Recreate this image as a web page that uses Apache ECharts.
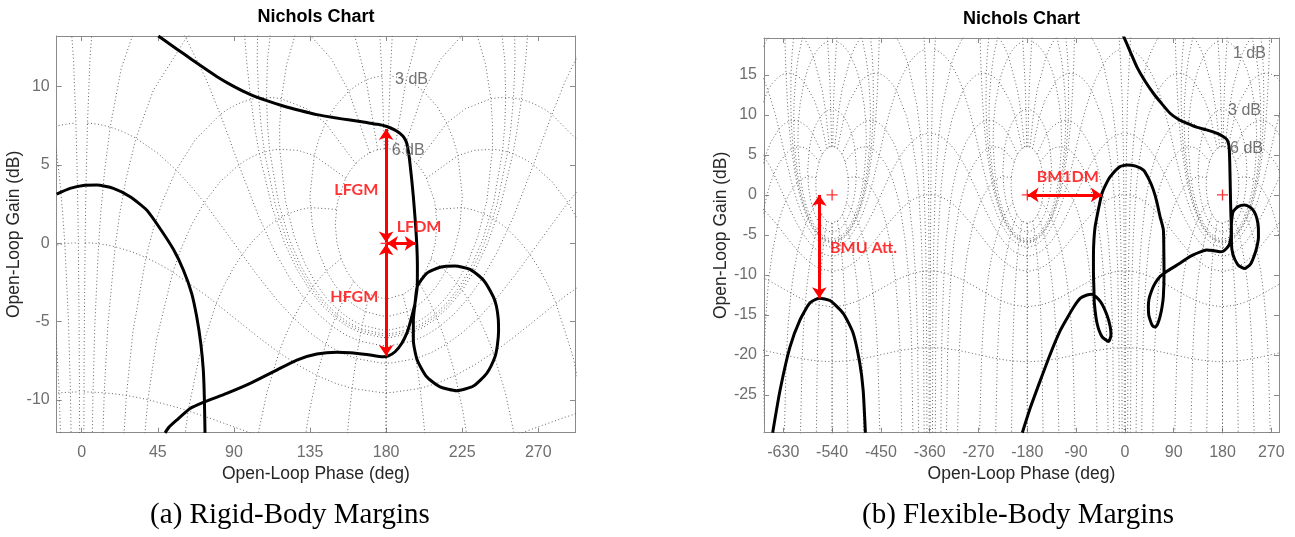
<!DOCTYPE html>
<html><head><meta charset="utf-8">
<script src="https://cdn.jsdelivr.net/npm/echarts@6/dist/echarts.min.js"></script>
<style>html,body{margin:0;padding:0;background:#fff}#c{width:1295px;height:537px}</style>
</head><body><div id="c"></div>
<script>
// ---------------- data ----------------
const leftXTicks = [0, 45, 90, 135, 180, 225, 270];
const leftYTicks = [-10, -5, 0, 5, 10];
const rightXTicks = [-630, -540, -450, -360, -270, -180, -90, 0, 90, 180, 270];
const rightYTicks = [-25, -20, -15, -10, -5, 0, 5, 10, 15];

// open-loop response, rigid-body (phase deg, gain dB)
const leftMain = [
  [45.3,13.24],[52.2,12.71],[60.1,12.12],[70,11.37],[79.8,10.66],[89.6,10.04],[99.5,9.51],[109.4,9.11],
  [119.2,8.77],[129.1,8.48],[139,8.22],[148.8,8.03],[158.7,7.87],[168.5,7.71],[175,7.6],[180.4,7.46],
  [185,7.25],[188.2,7.02],[190.6,6.75],[192.2,6.39],[193.4,5.7],[194.1,5.11],[195.2,4.0],[196.1,2.98],
  [197.2,1.5],[198.1,0],[198.5,-1.5],[198.4,-2.77],[197.1,-3.83],[196.1,-4.9],[196.1,-6.18],
  [198.4,-7.45],[204,-8.52],[211.9,-9.16],[221.7,-9.41],[231.6,-9.11],[239.5,-8.3],[244.4,-7.24],
  [245.8,-6.5],[246.5,-5.6],[246.3,-4.8],[245.2,-4.0],[243.4,-3.41],[237.5,-2.34],[229.6,-1.66],
  [220.7,-1.45],[211.9,-1.53],[204,-1.92],[198.4,-2.77],[197.1,-3.83],
  [196.1,-4.3],[194.1,-5.11],[192.2,-5.75],[189.2,-6.39],[185.3,-6.92],[181.4,-7.18],[178.3,-7.24],
  [168.5,-7.09],[158.7,-6.98],[150.8,-6.95],[139,-7.07],[127.2,-7.45],[115.3,-8.09],[99.6,-8.94],
  [85.7,-9.58],[72.9,-10.11],[64.1,-10.54],[56.2,-11.28],[51.5,-11.75],[49.3,-12.1]
];
const leftArch = [
  [-14.8,3.15],[-6.9,3.51],[0.9,3.7],[8.9,3.72],[18.7,3.51],[28.6,2.98],[38.4,2.13],[46.3,0.95],
  [54.2,-0.38],[60.1,-1.7],[65,-3.19],[68,-4.69],[70.4,-6.39],[71.9,-8.09],[72.5,-9.8],[72.9,-12.1]
];
// open-loop response, flexible-body
const rightMain = [
  [-3,19.9],[9.7,17.9],[22,16.0],[37.3,14.2],[52.5,12.7],[67.9,11.4],[83.2,10.2],[98.4,9.46],
  [113.9,8.96],[132.2,8.46],[150.6,8.13],[169,7.71],[181.1,7.29],[188.4,6.88],[192.1,6.04],[193.4,3.96],
  [194.7,-0.2],[195.5,-2.5],[196.5,-4.4],[196.5,-6.0],
  [199.5,-7.5],[208.6,-8.75],[220.9,-9.2],[232,-8.6],[238.5,-7.6],[243.5,-6.46],[246.3,-5.3],
  [246.2,-4.2],[243.6,-3.0],[238.5,-2.1],[231,-1.55],[220.9,-1.25],[208.6,-1.46],[199.5,-2.1],
  [196.5,-3.5],[196,-5],
  [193.5,-6.0],[190.3,-6.46],[182,-7.0],[175,-7.09],[163,-6.95],[150.6,-6.88],[138,-7.15],[126,-7.5],
  [113,-8.0],[101.5,-8.54],[89,-9.05],[77,-9.58],[70,-9.9],[64.8,-10.2],[56,-11.0],[49.6,-11.9],
  [44.5,-13.0],[43.3,-14.0],[44,-15.0],[46.4,-15.6],[50.5,-16.3],[55.6,-16.5],[60.5,-16.1],[64.8,-15.2],
  [68.5,-14.0],[70.9,-12.7],[72.2,-9.8],[71.8,-6.9],[71,-4.4],[68,-3.5],[64.8,-2.7],[59,-0.9],
  [52.5,0.63],[44,2.0],[34.2,3.1],[20,3.6],[3.7,3.75],[-10,3.5],[-27,2.29],[-36,1.2],[-42.3,0.21],
  [-47,-1.2],[-51.5,-2.7],[-55,-4.0],[-57,-5.5],[-58,-7.5],[-58,-9.5],[-57.7,-10.6],[-57,-12.0],
  [-56.4,-13.5],[-51.5,-16.0],[-42.3,-17.7],[-30.1,-18.3],[-25.7,-17.5],[-27,-16.5],[-33.1,-15.0],
  [-45.4,-13.3],[-60.6,-12.4],[-69.8,-12.5],[-82,-12.9],[-94.4,-14.0],[-106.6,-15.4],[-118.9,-16.9],
  [-137.2,-19.8],[-155.6,-23.1],[-174,-26.5],[-189.2,-29.7]
];
const rightArch = [
  [-649.6,-29.7],[-636,-24.4],[-617.8,-19.0],[-599.2,-15.6],[-581,-13.5],[-563.6,-12.9],[-544,-13.2],
  [-519.5,-14.8],[-501,-17.3],[-489,-21.0],[-482.7,-24.4],[-478.6,-29.7]
];

// critical points
const leftCritical = [[180, 0]];
const rightCritical = [[-540, 0], [-180, 0], [180, 0]];

// margin arrows [from, to]
const leftArrows = [[[180, 7.3], [180, 0.05]], [[180, -0.05], [180, -7.2]], [[180.5, 0], [197.5, 0]]];
const rightArrows = [[[-563.6, 0], [-563.6, -12.9]], [[-179.5, 0], [-42.5, 0]]];

// margin annotation texts
const leftAnnotText = ['LFGM', 'LFDM', 'HFGM'];
const leftAnnotPos = [[175.4, 3.4], [186.3, 1.06], [175.4, -3.41]];
const rightAnnotText = ['BMU Att.', 'BM1DM'];
const rightAnnotPos = [[-543.9, -6.66], [-162.7, 2.29]];

// Nichols grid labels
const leftGridLabelText = ['3 dB', '6 dB'];
const leftGridLabelPos = [[185.3, 10.47], [183.3, 5.91]];
const rightGridLabelText = ['1 dB', '3 dB', '6 dB'];
const rightGridLabelPos = [[199.4, 17.7], [190.2, 10.5], [193.9, 5.75]];

// Nichols grid contour values (closed-loop phase / gain, MATLAB ngrid defaults)
const isoPhaseDeg = [1, 5, 10, 20, 30, 50, 90, 120, 150, 180];
const isoPhaseGainPts = [6,3,2,1,.75,.5,.4,.3,.25,.2,.15,.1,.05,0,-.05,-.1,-.15,-.2,-.25,-.3,-.4,-.5,-.75,-1,-2,-3,-4,-5,-6,-9,-12,-16,-20,-30,-40];
const isoGainDb = [6, 3, 1, .5, .25, 0, -1, -3, -6, -12, -20, -40];
const isoGainPhasePts = [1,2,3,4,5,7.5,10,15,20,25,30,45,60,75,90,105,120,135,150,175,180];

// ---------------- grid construction ----------------
function olPoint(mDb, pDeg) {
  const m = Math.pow(10, mDb / 20), p = pDeg * Math.PI / 180;
  const zr = m * Math.cos(p), zi = m * Math.sin(p);
  const dr = 1 - zr, di = -zi;
  const den = dr * dr + di * di;
  const hr = (zr * dr + zi * di) / den, hi = (zi * dr - zr * di) / den;
  const g = 20 * Math.log10(Math.hypot(hr, hi));
  let ph = Math.atan2(hi, hr) * 180 / Math.PI;
  ph = ((ph + 360) % 360) - 360;
  return [ph, g];
}
function nicholsGrid(kList) {
  const base = [];
  isoPhaseDeg.forEach(p => {
    const pts = isoPhaseGainPts.map(g => olPoint(g, p));
    base.push(pts);
    base.push(pts.map(([x, y]) => [-360 - x, y]));
  });
  const p2 = isoGainPhasePts.concat(isoGainPhasePts.slice(0, -1).reverse().map(p => 360 - p));
  isoGainDb.forEach(g => base.push(p2.map(p => olPoint(g, p))));
  const lines = [];
  kList.forEach(k => base.forEach(pts => lines.push(pts.map(([x, y]) => [x + 360 * k, y]))));
  return lines;
}

// ---------------- chart ----------------
const FRAME = '#8a8a8a';
const TICKC = '#6e6e6e';
const SANS = '"Liberation Sans", Arial, Helvetica, sans-serif';

function xAxes(gi, min, max, ticks) {
  return [
    { gridIndex: gi, type: 'value', min, max, position: 'bottom',
      axisLine: { show: true, onZero: false, lineStyle: { color: FRAME, width: 1 } },
      axisTick: { show: true, inside: true, length: 5, customValues: ticks, lineStyle: { color: FRAME } },
      axisLabel: { show: true, customValues: ticks, color: TICKC, fontSize: 16, fontFamily: SANS, margin: 12 },
      splitLine: { show: false },
      name: 'Open-Loop Phase (deg)', nameLocation: 'middle', nameGap: 27,
      nameTextStyle: { color: '#262626', fontSize: 17.5, fontFamily: SANS } },
    { gridIndex: gi, type: 'value', min, max, position: 'top',
      axisLine: { show: true, onZero: false, lineStyle: { color: FRAME, width: 1 } },
      axisTick: { show: true, inside: true, length: 5, customValues: ticks, lineStyle: { color: FRAME } },
      axisLabel: { show: false }, splitLine: { show: false } }
  ];
}
function yAxes(gi, min, max, ticks, gap) {
  return [
    { gridIndex: gi, type: 'value', min, max, position: 'left',
      axisLine: { show: true, onZero: false, lineStyle: { color: FRAME, width: 1 } },
      axisTick: { show: true, inside: true, length: 5, customValues: ticks, lineStyle: { color: FRAME } },
      axisLabel: { show: true, customValues: ticks, color: TICKC, fontSize: 16, fontFamily: SANS, margin: 7 },
      splitLine: { show: false },
      name: 'Open-Loop Gain (dB)', nameLocation: 'middle', nameGap: gap, nameRotate: 90,
      nameTextStyle: { color: '#262626', fontSize: 17.5, fontFamily: SANS } },
    { gridIndex: gi, type: 'value', min, max, position: 'right',
      axisLine: { show: true, onZero: false, lineStyle: { color: FRAME, width: 1 } },
      axisTick: { show: true, inside: true, length: 5, customValues: ticks, lineStyle: { color: FRAME } },
      axisLabel: { show: false }, splitLine: { show: false } }
  ];
}

const series = [];
function addGrid(lines, ax) {
  lines.forEach(pts => series.push({
    type: 'line', xAxisIndex: ax, yAxisIndex: ax, data: pts, symbol: 'none', silent: true,
    clip: true, z: 1, animation: false,
    lineStyle: { color: '#626262', width: 1, type: [1, 2.5] }
  }));
}
addGrid(nicholsGrid([0, 1]), 0);
addGrid(nicholsGrid([-1, 0, 1]), 2);

function addCurve(pts, ax) {
  series.push({ type: 'line', xAxisIndex: ax, yAxisIndex: ax, data: pts, symbol: 'none', smooth: 0.2,
    clip: true, z: 4, silent: true, lineStyle: { color: '#000', width: 3 } });
}
addCurve(leftMain, 0); addCurve(leftArch, 0);
addCurve(rightMain, 2); addCurve(rightArch, 2);

const plusPath = 'path://M0,4.4L10,4.4L10,5.6L0,5.6Z M4.4,0L5.6,0L5.6,10L4.4,10Z';
function addCritical(pts, arrows, ax) {
  series.push({ type: 'scatter', xAxisIndex: ax, yAxisIndex: ax, data: pts, symbol: plusPath,
    symbolSize: 11, itemStyle: { color: '#ff0000' }, z: 6, silent: true,
    markLine: { silent: true, symbol: ['arrow', 'arrow'], symbolSize: [11, 11], precision: 3,
      lineStyle: { color: '#ff0000', width: 3, type: 'solid' }, label: { show: false },
      emphasis: { disabled: true },
      data: arrows.map(([a, b]) => [{ coord: a }, { coord: b }]) } });
}
addCritical(leftCritical, leftArrows, 0);
addCritical(rightCritical, rightArrows, 2);

const RED_FONT = 'Lato, "Open Sans", sans-serif';
function addTexts(texts, pos, sides, ax, style) {
  texts.forEach((t, i) => series.push({
    type: 'scatter', xAxisIndex: ax, yAxisIndex: ax, data: [pos[i]], symbolSize: 0, z: 7, silent: true,
    label: Object.assign({ show: true, position: sides[i], distance: 0, formatter: t }, style)
  }));
}
const redStyle = { color: '#ff0000', fontSize: 16, fontWeight: 'bold', fontFamily: RED_FONT };
const grayStyle = { color: '#505050', fontSize: 16, fontFamily: SANS };
addTexts(leftAnnotText, leftAnnotPos, ['left', 'right', 'left'], 0, redStyle);
addTexts(rightAnnotText, rightAnnotPos, ['right', 'right'], 2, redStyle);
addTexts(leftGridLabelText, leftGridLabelPos, leftGridLabelText.map(() => 'right'), 0, grayStyle);
addTexts(rightGridLabelText, rightGridLabelPos, rightGridLabelText.map(() => 'right'), 2, grayStyle);

function txt(s, x, y, font, color) {
  return { type: 'text', x, y, silent: true,
    style: { text: s, font, fill: color || '#000', align: 'center', verticalAlign: 'middle',
      textAlign: 'center', textVerticalAlign: 'middle' } };
}

const chart = echarts.init(document.getElementById('c'), null, { renderer: 'canvas' });
chart.setOption({
  animation: false,
  backgroundColor: '#ffffff',
  grid: [
    { left: 56.7, top: 36, width: 518.3, height: 396.7 },
    { left: 764, top: 38, width: 515, height: 394.7 }
  ],
  xAxis: [].concat(xAxes(0, -14.8, 291.7, leftXTicks), xAxes(1, -665.6, 284.2, rightXTicks)),
  yAxis: [].concat(yAxes(0, -12.09, 13.24, leftYTicks, 25), yAxes(1, -29.7, 19.6, rightYTicks, 34)),
  series: series,
  graphic: [
    txt('Nichols Chart', 316, 17, 'bold 18px "Liberation Sans", Arial, sans-serif'),
    txt('Nichols Chart', 1021.5, 19, 'bold 18px "Liberation Sans", Arial, sans-serif'),
    txt('(a) Rigid-Body Margins', 290, 515, '29px "Liberation Serif", "Times New Roman", serif'),
    txt('(b) Flexible-Body Margins', 1018, 515, '29px "Liberation Serif", "Times New Roman", serif')
  ]
});
</script>
</body></html>
